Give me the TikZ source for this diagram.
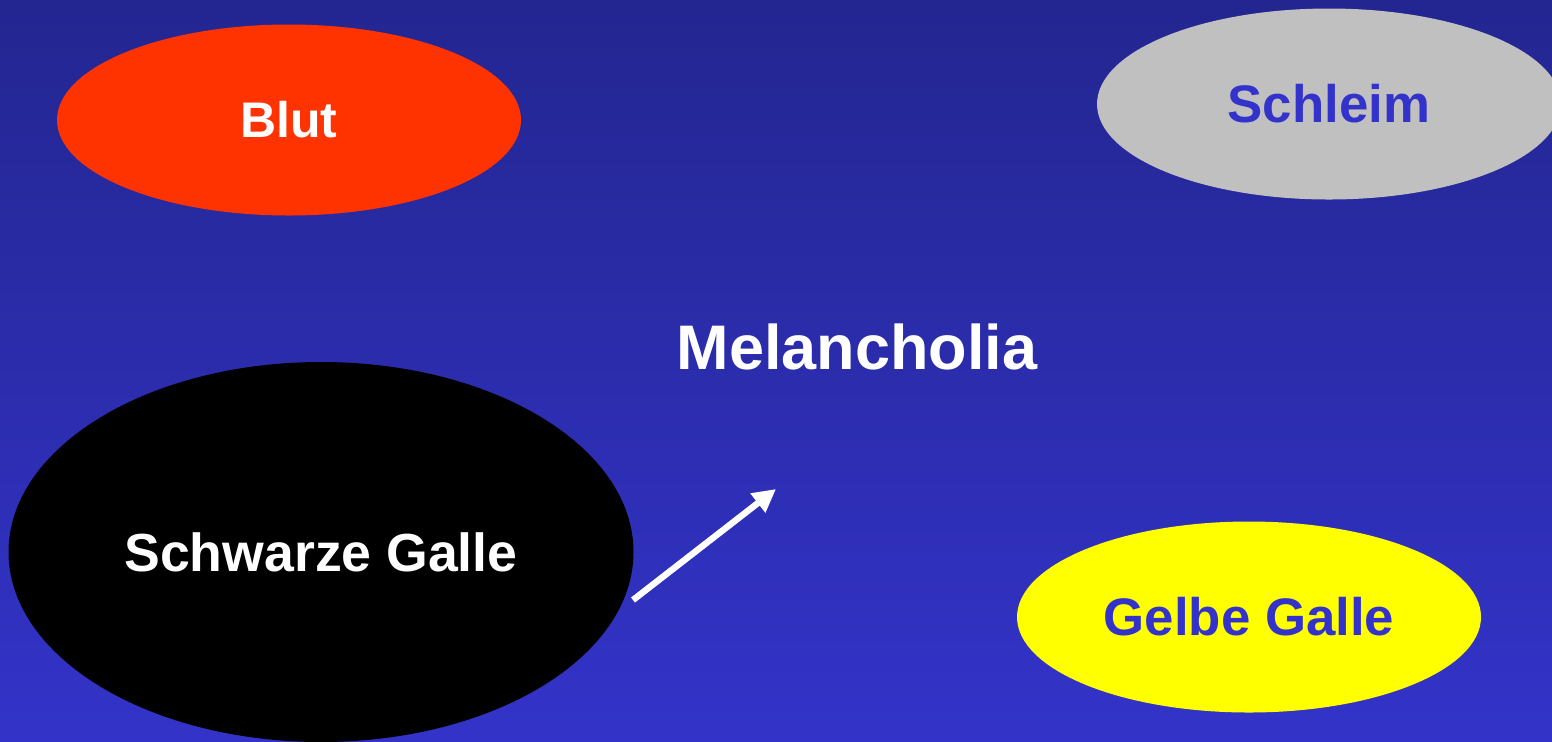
\documentclass[tikz,border=0pt]{standalone}
\usepackage{fontspec}
\setmainfont{Liberation Sans}
\usetikzlibrary{arrows.meta,shapes.geometric}
\definecolor{bgtop}{HTML}{232690}
\definecolor{bgbottom}{HTML}{3333C9}
\definecolor{humourblue}{HTML}{3333CC}
\definecolor{blutred}{HTML}{FF3300}
\definecolor{schleimgray}{HTML}{C0C0C0}
\definecolor{gallyellow}{HTML}{FFFF00}

\begin{document}
\begin{tikzpicture}[
    x=0.5pt, y=-0.5pt,
    humour/.style={ellipse, inner sep=0pt, font=\bfseries\fontsize{26.4}{30}\selectfont, minimum width=232pt, minimum height=95.5pt},
    >=Triangle
  ]
  \useasboundingbox (0,0) rectangle (1552,741);
  \shade[top color=bgtop, bottom color=bgbottom] (0,0) rectangle (1552,741);

  \node[humour, fill=blutred, text=white, font=\bfseries\fontsize{25}{30}\selectfont] (blut) at (289,120) {Blut};
  \node[humour, fill=schleimgray, text=humourblue] (schleim) at (1329,104) {Schleim};
  \node[humour, fill=black, text=white, minimum width=312.5pt, minimum height=190pt, font=\bfseries\fontsize{26.8}{30}\selectfont] (schwarz) at (321,552) {Schwarze Galle};
  \node[humour, fill=gallyellow, text=humourblue] (gelb) at (1249,617) {Gelbe Galle};
  \node[text=white, font=\bfseries\fontsize{31.5}{36}\selectfont] (melan) at (857,347) {Melancholia};

  \coordinate (tail) at (633,600);
  \coordinate (tip) at (776,489);
  \draw[white, line width=3.2pt, -{Triangle[length=11.5pt, width=11.5pt]}] (tail) -- (tip);
\end{tikzpicture}
\end{document}
